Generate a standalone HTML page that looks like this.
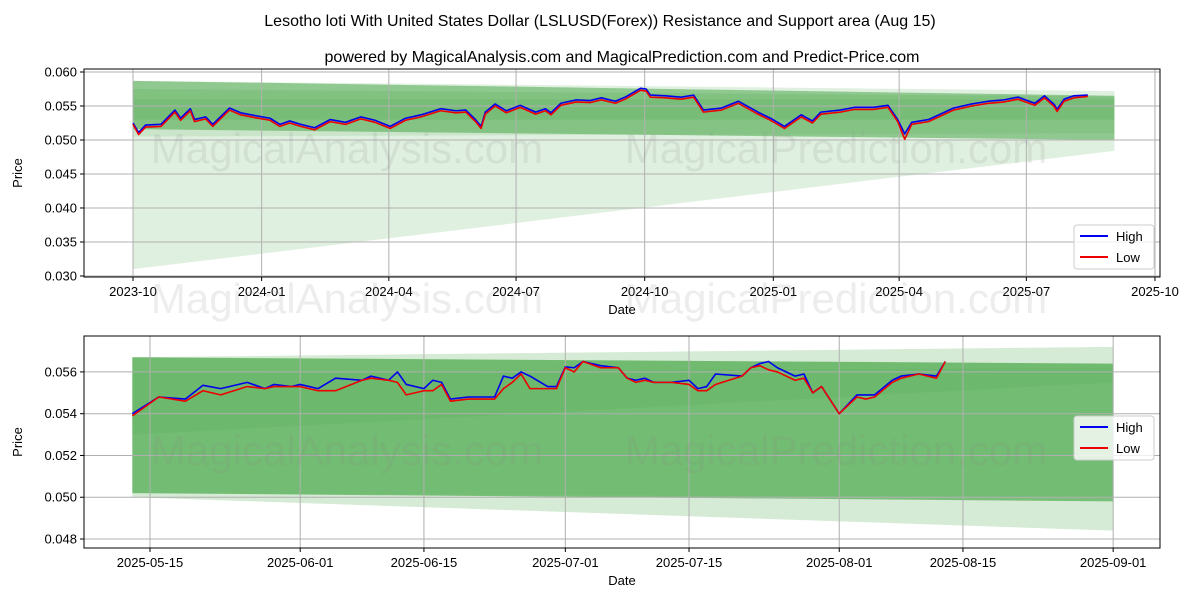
<!DOCTYPE html>
<html><head><meta charset="utf-8"><style>
body{margin:0;background:#fff;font-family:"Liberation Sans",sans-serif}
svg text{font-family:"Liberation Sans",sans-serif}
</style></head><body>
<svg id="c" width="1200" height="600" xmlns="http://www.w3.org/2000/svg">
<rect width="1200" height="600" fill="#fff"/>
<text x="600" y="26" text-anchor="middle" font-size="16">Lesotho loti With United States Dollar (LSLUSD(Forex)) Resistance and Support area (Aug 15)</text>
<text x="622" y="62" text-anchor="middle" font-size="16">powered by MagicalAnalysis.com and MagicalPrediction.com and Predict-Price.com</text>
</svg>
<script>
// top chart data (days since 2023-10-01)
const topDays=[0,4,9,20,30,34,41,44,52,57,69,77,87,98,105,112,120,130,141,152,163,173,184,195,206,220,231,238,245,249,252,259,267,277,288,295,299,306,317,327,335,345,352,363,367,370,381,392,401,408,421,433,447,456,466,478,486,492,506,516,530,540,547,552,557,569,587,600,612,623,633,645,652,659,661,666,673,683];
const topHigh=[0.0525,0.0511,0.0522,0.0523,0.0544,0.0532,0.0546,0.0530,0.0534,0.0523,0.0547,0.0540,0.0536,0.0532,0.0523,0.0528,0.0523,0.0518,0.0530,0.0526,0.0534,0.0529,0.0520,0.0532,0.0537,0.0546,0.0543,0.0544,0.0530,0.0520,0.0541,0.0553,0.0543,0.0551,0.0541,0.0546,0.0540,0.0554,0.0559,0.0558,0.0562,0.0557,0.0563,0.0576,0.0575,0.0566,0.0565,0.0563,0.0566,0.0544,0.0547,0.0557,0.0541,0.0532,0.0520,0.0537,0.0528,0.0541,0.0544,0.0548,0.0548,0.0551,0.0530,0.0509,0.0526,0.0530,0.0547,0.0553,0.0557,0.0559,0.0563,0.0554,0.0565,0.0552,0.0545,0.0560,0.0565,0.0566];
const topLow=[0.0523,0.0508,0.0519,0.0520,0.0541,0.0529,0.0543,0.0527,0.0531,0.0520,0.0544,0.0537,0.0533,0.0529,0.0520,0.0525,0.0520,0.0515,0.0527,0.0523,0.0531,0.0526,0.0517,0.0529,0.0534,0.0543,0.0540,0.0541,0.0527,0.0517,0.0538,0.0550,0.0540,0.0548,0.0538,0.0543,0.0537,0.0551,0.0556,0.0555,0.0559,0.0554,0.0560,0.0573,0.0572,0.0563,0.0562,0.0560,0.0563,0.0541,0.0544,0.0554,0.0538,0.0529,0.0517,0.0534,0.0525,0.0538,0.0541,0.0545,0.0545,0.0548,0.0527,0.0501,0.0523,0.0527,0.0544,0.0550,0.0554,0.0556,0.0560,0.0551,0.0562,0.0549,0.0542,0.0557,0.0562,0.0564];
const topYTicks=[0.030,0.035,0.040,0.045,0.050,0.055,0.060];
const topXLabels=["2023-10","2024-01","2024-04","2024-07","2024-10","2025-01","2025-04","2025-07","2025-10"];
const topXTickDays=[0,92,183,274,366,458,548,639,731];
// bottom chart data (days since 2025-05-15)
const botDays=[-2,1,4,6,8,11,13,14,16,17,19,21,24,25,27,28,29,31,32,33,34,36,39,40,41,42,43,45,46,47,48,49,51,53,54,55,56,57,59,61,62,63,64,67,68,69,70,71,73,74,75,76,78,80,81,82,84,85,87,89,90];
const botHigh=[0.0540,0.0548,0.0547,0.05536,0.0552,0.0555,0.0552,0.0554,0.0553,0.0554,0.0552,0.0557,0.0556,0.0558,0.0556,0.0560,0.0554,0.0552,0.0556,0.0555,0.0547,0.0548,0.0548,0.0558,0.0557,0.0560,0.0558,0.0553,0.0553,0.05624,0.0562,0.0565,0.0563,0.0562,0.0557,0.0556,0.0557,0.0555,0.0555,0.0556,0.0552,0.0553,0.0559,0.0558,0.0562,0.0564,0.0565,0.0562,0.0558,0.0559,0.0550,0.0553,0.0540,0.0549,0.0549,0.0549,0.0556,0.0558,0.0559,0.0558,0.0565];
const botLow=[0.0539,0.0548,0.0546,0.0551,0.0549,0.0553,0.0552,0.0553,0.0553,0.0553,0.0551,0.0551,0.0556,0.0557,0.0556,0.0555,0.0549,0.0551,0.0551,0.0554,0.0546,0.0547,0.0547,0.0552,0.0555,0.0559,0.0552,0.0552,0.0552,0.0562,0.0560,0.0565,0.0562,0.0562,0.0557,0.0555,0.0556,0.0555,0.0555,0.0554,0.0551,0.0551,0.0554,0.0558,0.0562,0.0563,0.0561,0.0560,0.0556,0.0557,0.0550,0.0553,0.0540,0.0548,0.0547,0.0548,0.0555,0.0557,0.0559,0.0557,0.0565];
const botYTicks=[0.048,0.050,0.052,0.054,0.056];
const botXLabels=["2025-05-15","2025-06-01","2025-06-15","2025-07-01","2025-07-15","2025-08-01","2025-08-15","2025-09-01"];
const botXTickDays=[0,17,31,47,61,78,92,109];

const NS="http://www.w3.org/2000/svg",svg=document.getElementById('c');
function mk(t,a,p){const e=document.createElementNS(NS,t);for(const k in a)e.setAttribute(k,a[k]);(p||svg).appendChild(e);return e;}

function chart(cfg){
  const {x0,x1,y0,y1,dmin,dmax,pmin,pmax}=cfg;
  const X=d=>x0+(d-dmin)/(dmax-dmin)*(x1-x0);
  const Y=p=>y1-(p-pmin)/(pmax-pmin)*(y1-y0);
  const g=mk('g',{});
  
  
  cfg.bands.forEach((b,i)=>{
    const pts=[[b.d0,b.t0],[b.d1,b.t1],[b.d1,b.b1],[b.d0,b.b0]].map(q=>X(q[0])+','+Y(q[1])).join(' ');
    const e=mk('polygon',{points:pts,fill:'#2e9a2e','fill-opacity':b.a},g);
    
    
  });
  cfg.yt.forEach(v=>{
    const y=Y(v);
    mk('line',{x1:x0,x2:x1,y1:y,y2:y,stroke:'#b0b0b0','stroke-width':1},g);
    mk('line',{x1:x0-4,x2:x0,y1:y,y2:y,stroke:'#000'},g);
    const t=mk('text',{x:x0-7,y:y+4.5,'text-anchor':'end','font-size':13},g);t.textContent=v.toFixed(3);
    
    
  });
  cfg.xd.forEach((d,i)=>{
    const x=X(d);
    mk('line',{x1:x,x2:x,y1:y0,y2:y1,stroke:'#b0b0b0','stroke-width':1},g);
    mk('line',{x1:x,x2:x,y1:y1,y2:y1+4,stroke:'#000'},g);
    const t=mk('text',{x:x,y:y1+19,'text-anchor':'middle','font-size':13},g);t.textContent=cfg.xl[i];
    
    
  });
  cfg.wm.forEach(w=>{
    const t=mk('text',{x:w[0],y:w[1],'text-anchor':'middle','font-size':42,fill:'#888','fill-opacity':0.15},g);t.textContent=w[2];
    
    
  });
  [[cfg.hi,'#0000ee','high-line'],[cfg.lo,'#ee0000','low-line']].forEach(s=>{
    const e=mk('polyline',{points:cfg.days.map((d,i)=>X(d)+','+Y(s[0][i])).join(' '),fill:'none',stroke:s[1],'stroke-width':1.6,'stroke-linejoin':'round'},g);
    
    
  });
  mk('rect',{x:x0,y:y0,width:x1-x0,height:y1-y0,fill:'none',stroke:'#000','stroke-width':1},g);
  const yl=mk('text',{x:0,y:0,'text-anchor':'middle','font-size':13,transform:`translate(${x0-62},${(y0+y1)/2}) rotate(-90)`},g);yl.textContent='Price';
  
  
  const xl=mk('text',{x:(x0+x1)/2,y:y1+37,'text-anchor':'middle','font-size':13},g);xl.textContent='Date';
  
  
  const L=cfg.leg,lg=mk('g',{},g);
  
  
  mk('rect',{x:L[0],y:L[1],width:80,height:44,rx:3,fill:'#fff','fill-opacity':0.8,stroke:'#ccc'},lg);
  [['High','#0000ee'],['Low','#ee0000']].forEach((s,i)=>{
    const yy=L[1]+11+i*21;
    mk('line',{x1:L[0]+6,x2:L[0]+34,y1:yy,y2:yy,stroke:s[1],'stroke-width':2},lg);
    const t=mk('text',{x:L[0]+42,y:yy+5,'font-size':13},lg);t.textContent=s[0];
    
    
  });
}
chart({name:'top-chart',x0:84,x1:1160,y0:69,y1:277,dmin:-35.05,dmax:734.6,pmin:0.02985,pmax:0.06044,
  days:topDays,hi:topHigh,lo:topLow,yt:topYTicks,xd:topXTickDays,xl:topXLabels,leg:[1074,225],
  wm:[[347,163,'MagicalAnalysis.com'],[836,163,'MagicalPrediction.com'],[347,313,'MagicalAnalysis.com'],[836,313,'MagicalPrediction.com']],
  bands:[{d0:0,d1:702,t0:0.0587,t1:0.0572,b0:0.0310,b1:0.0484,a:0.15},
         {d0:0,d1:702,t0:0.0587,t1:0.0565,b0:0.0516,b1:0.0500,a:0.45},
         {d0:0,d1:702,t0:0.0575,t1:0.0564,b0:0.0530,b1:0.0530,a:0.15},
         {d0:0,d1:702,t0:0.0560,t1:0.0560,b0:0.0505,b1:0.0510,a:0.12}]});
chart({name:'bottom-chart',x0:84,x1:1160,y0:336,y1:548,dmin:-7.47,dmax:114.3,pmin:0.04757,pmax:0.05772,
  days:botDays,hi:botHigh,lo:botLow,yt:botYTicks,xd:botXTickDays,xl:botXLabels,leg:[1074,416],
  wm:[[347,465,'MagicalAnalysis.com'],[836,465,'MagicalPrediction.com']],
  bands:[{d0:-2,d1:109,t0:0.0567,t1:0.0572,b0:0.0500,b1:0.0484,a:0.2},
         {d0:-2,d1:109,t0:0.0567,t1:0.0564,b0:0.0502,b1:0.0498,a:0.55},
         {d0:-2,d1:109,t0:0.0567,t1:0.0564,b0:0.0530,b1:0.0555,a:0.1},
         {d0:-2,d1:109,t0:0.0560,t1:0.0562,b0:0.0502,b1:0.0500,a:0.08}]});
</script>
</body></html>
